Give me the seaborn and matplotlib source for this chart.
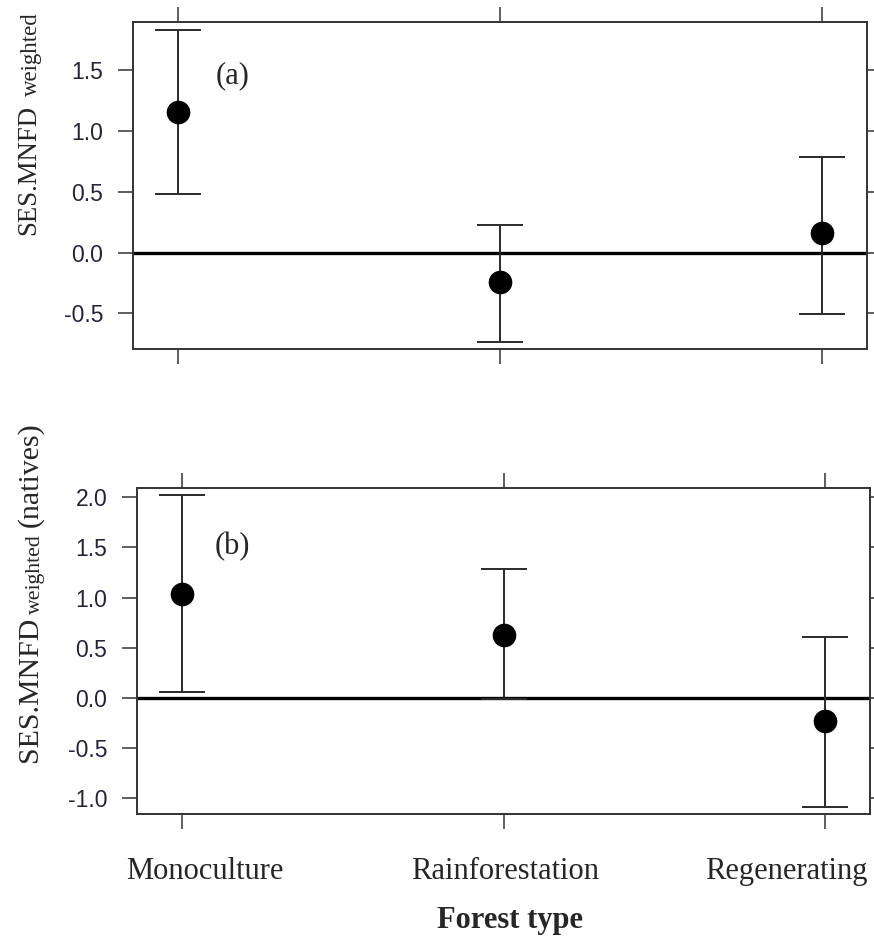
import numpy as np
import pandas as pd
import matplotlib
matplotlib.use("Agg")
import matplotlib.pyplot as plt
import seaborn as sns
from matplotlib.transforms import blended_transform_factory

# ---------------- data ----------------
categories = ["Monoculture", "Rainforestation", "Regenerating"]

mean_a = [1.16, -0.245, 0.16]
lower_a = [0.48, -0.74, -0.505]
upper_a = [1.83, 0.23, 0.79]

mean_b = [1.04, 0.625, -0.23]
lower_b = [0.06, -0.01, -1.085]
upper_b = [2.02, 1.285, 0.605]

yticks_a = [-0.5, 0.0, 0.5, 1.0, 1.5]
yticks_b = [-1.0, -0.5, 0.0, 0.5, 1.0, 1.5, 2.0]
panel_labels = ["(a)", "(b)"]
ylabel_main = "SES.MNFD"
ylabel_sub = "weighted"
ylabel_suffix_b = "(natives)"
xlabel = "Forest type"

# ---------------- style ----------------
sns.set_style("white")
plt.rcParams["font.family"] = ["Liberation Serif", "DejaVu Serif"]

SPINE_C = "#333333"
TICKLBL_C = "#23233a"

fig = plt.figure(figsize=(8.74, 9.43), dpi=100)
ax_a = fig.add_axes([0.1522, 0.6299, 0.8398, 0.3468])
ax_b = fig.add_axes([0.1568, 0.1368, 0.8387, 0.3457])


def draw_panel(ax, means, lo, hi, yticks, ylim, plabel, plabel_xy):
    df = pd.DataFrame({"forest": categories, "value": means, "lo": lo, "hi": hi})
    pos = np.arange(len(categories))
    ax.axhline(0, color="black", lw=2.4, zorder=1)
    ax.errorbar(pos, df["value"],
                yerr=[df["value"] - df["lo"], df["hi"] - df["value"]],
                fmt="none", ecolor="#2a2a2a", elinewidth=1.4,
                capsize=16.5, capthick=1.4, zorder=2)
    sns.scatterplot(x=pos, y=df["value"], ax=ax, color="black", s=290,
                    linewidth=0, zorder=3, legend=False)
    ax.set_xticks(pos)
    ax.set_xlim(-0.14, 2.14)
    ax.set_yticks(yticks)
    ax.set_yticklabels([f"{t:.1f}" for t in yticks], family="Liberation Sans",
                       fontsize=16.5, color=TICKLBL_C)
    ax.set_ylim(*ylim)
    ax.tick_params(axis="both", which="major", direction="out", length=10.5,
                   width=1.1, color=SPINE_C, top=True, right=True, bottom=True,
                   left=True, labelbottom=False, labeltop=False,
                   labelright=False, labelleft=True)
    ax.tick_params(axis="y", pad=11)
    for sp in ax.spines.values():
        sp.set_visible(True)
        sp.set_color(SPINE_C)
        sp.set_linewidth(1.4)
    ax.set_xlabel("")
    ax.set_ylabel("")
    ax.text(plabel_xy[0], plabel_xy[1], plabel, fontsize=22, ha="center",
            va="center")


draw_panel(ax_a, mean_a, lower_a, upper_a, yticks_a, (-0.794, 1.897),
           panel_labels[0], (0.169, 1.457))
draw_panel(ax_b, mean_b, lower_b, upper_b, yticks_b, (-1.158, 2.093),
           panel_labels[1], (0.156, 1.505))


def rotated_label(pieces, x_base_px, y_start_px_from_top):
    """Compose a vertical (rotated) y-axis title out of pieces of differing size."""
    renderer = fig.canvas.get_renderer()
    W, H = fig.bbox.width, fig.bbox.height
    y = H - y_start_px_from_top
    for text, size, shift, gap in pieces:
        y += gap
        t = fig.text((x_base_px + shift) / W, y / H, text, rotation=90,
                     rotation_mode="anchor", ha="left", va="baseline",
                     fontsize=size)
        y += t.get_window_extent(renderer).height


rotated_label([(ylabel_main, 19.3, 0, 0), (ylabel_sub, 16.5, 2, 9)], 35, 235)
rotated_label([(ylabel_main, 21.5, 0, 0), (ylabel_sub, 15.7, 3, 3),
               (ylabel_suffix_b, 21.5, 0, 7)], 37, 762)

# category labels (offset from their ticks as in the original)
label_offsets = [0.072, 0.005, -0.12]
trans = blended_transform_factory(ax_b.transData, ax_b.transAxes)
for i, (cat, off) in enumerate(zip(categories, label_offsets)):
    ax_b.text(i + off, -0.199, cat, transform=trans, ha="center",
              va="baseline", fontsize=22)

ax_b.set_xlabel(xlabel, fontsize=22, fontweight="bold")
ax_b.xaxis.set_label_coords(0.509, -0.282)
ax_b.xaxis.label.set_va("top")

fig.savefig("out.png", dpi=100)
